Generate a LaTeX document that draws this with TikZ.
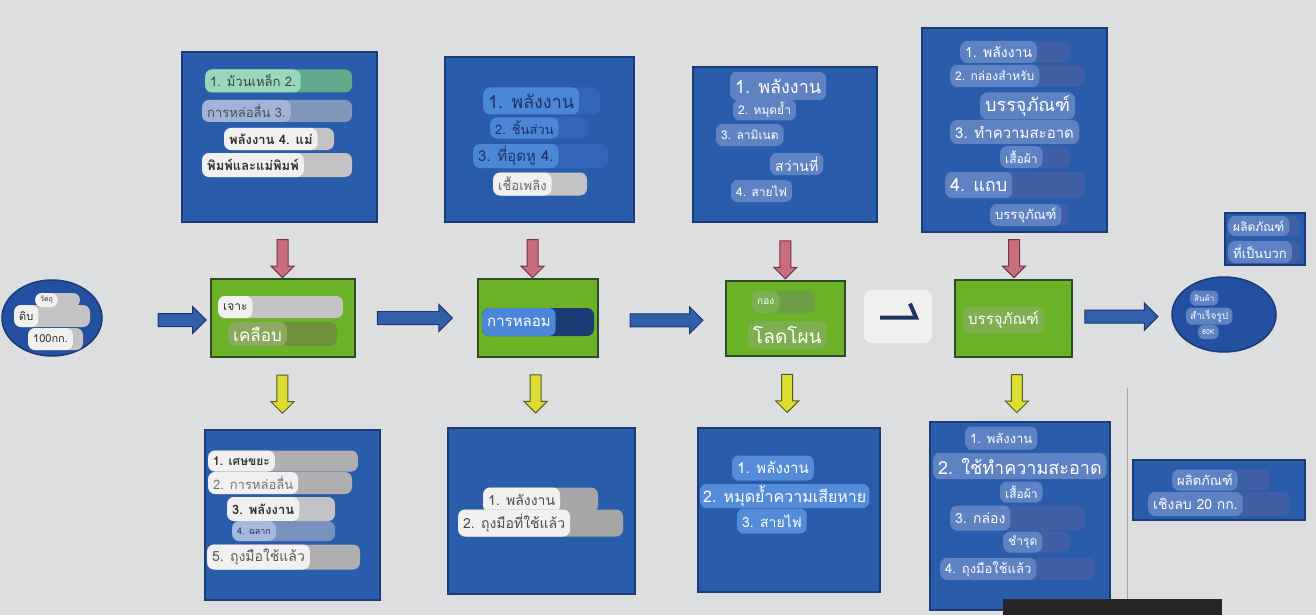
\documentclass[tikz,border=0pt]{standalone}
\usepackage{fontspec}
\setmainfont{Loma}[Script=Thai]
\usetikzlibrary{shapes.geometric,shapes.arrows,calc}
\definecolor{bg}{RGB}{221,222,224}
\definecolor{boxblue}{RGB}{42,92,172}
\definecolor{boxbord}{RGB}{28,58,118}
\definecolor{grn}{RGB}{108,178,38}
\definecolor{grnbord}{RGB}{45,75,40}
\definecolor{mint}{RGB}{150,215,190}
\definecolor{mintd}{RGB}{95,170,140}
\definecolor{lgb}{RGB}{160,180,215}
\definecolor{lgbd}{RGB}{130,150,185}
\definecolor{wbc}{RGB}{240,240,238}
\definecolor{gext}{RGB}{195,195,198}
\definecolor{bb}{RGB}{75,135,215}
\definecolor{bbd}{RGB}{50,100,185}
\definecolor{sb}{RGB}{95,130,195}
\definecolor{sbd}{RGB}{65,95,165}
\definecolor{bb3}{RGB}{85,140,215}
\definecolor{olive}{RGB}{140,170,95}
\definecolor{olived}{RGB}{110,145,60}
\definecolor{gbub}{RGB}{125,175,80}
\definecolor{lbl}{RGB}{165,185,220}
\definecolor{lbld}{RGB}{120,145,190}
\definecolor{navy}{RGB}{30,50,100}
\definecolor{pinkf}{RGB}{200,110,125}
\definecolor{pinkd}{RGB}{120,50,70}
\definecolor{yelf}{RGB}{220,220,50}
\definecolor{yeld}{RGB}{90,90,40}
\definecolor{harf}{RGB}{50,95,170}
\definecolor{hard}{RGB}{30,55,110}
\definecolor{ellf}{RGB}{35,80,160}
\newcommand\fz[1]{\fontsize{#1}{#1}\selectfont}
% name, x, y, h, xext, node style, ext colour, text
\newcommand\bub[8]{%
  \fill[#7, rounded corners=7pt] (#2,#3-#4/2) rectangle (#5,#3+#4/2);
  \node[bubble, minimum height=#4pt, anchor=west, #6] (#1) at (#2,#3) {#8};
}
\begin{document}
\begin{tikzpicture}[x=1pt,y=-1pt,
  bluebox/.style={draw=boxbord, fill=boxblue, line width=1.5pt},
  grnbox/.style={draw=grnbord, fill=grn, line width=2pt},
  bubble/.style={rounded corners=7pt, inner xsep=5pt, inner ysep=0pt, font=\fz{13}},
  wb/.style={fill=wbc, text=black!80},
  sbs/.style={fill=sb, text=white},
  bbs/.style={fill=bb, text=navy},
  harrow/.style={single arrow, draw=hard, fill=harf, line width=1pt, inner xsep=0pt, inner ysep=6pt, single arrow head extend=7pt, single arrow head indent=0pt},
  parrow/.style={single arrow, draw=pinkd, fill=pinkf, line width=1pt, inner xsep=0pt, inner ysep=5pt, single arrow head extend=6pt, single arrow head indent=0pt, rotate=-90, minimum height=38pt},
  yarrow/.style={single arrow, draw=yeld, fill=yelf, line width=1pt, inner xsep=0pt, inner ysep=5pt, single arrow head extend=6pt, single arrow head indent=0pt, rotate=-90, minimum height=38pt},
]
\useasboundingbox (0,0) rectangle (1316,615);
\fill[bg] (0,0) rectangle (1316,615);

% main boxes
\node[bluebox, minimum width=195pt, minimum height=170pt] (t1) at (279.5,137) {};
\node[bluebox, minimum width=189pt, minimum height=165pt] (t2) at (539.5,139.5) {};
\node[bluebox, minimum width=184pt, minimum height=155pt] (t3) at (785,144.5) {};
\node[bluebox, minimum width=185pt, minimum height=204pt] (t4) at (1014.5,130) {};
\node[bluebox, minimum width=80pt, minimum height=52pt] (tr) at (1265,239) {};
\node[grnbox, minimum width=144pt, minimum height=78pt] (g1) at (283,318) {};
\node[grnbox, minimum width=120pt, minimum height=78pt] (g2) at (538,318) {};
\node[grnbox, minimum width=119pt, minimum height=75pt] (g3) at (785.5,318.5) {};
\node[fill=wbc, rounded corners=8pt, minimum width=68pt, minimum height=53pt] (wbx) at (898,316.5) {};
\node[grnbox, minimum width=117pt, minimum height=77pt] (g4) at (1013.5,318.5) {};
\node[ellipse, draw=boxbord, fill=ellf, line width=1.5pt, minimum width=100pt, minimum height=76pt, inner sep=0pt] (el) at (52,318) {};
\node[ellipse, draw=boxbord, fill=ellf, line width=1.5pt, minimum width=104pt, minimum height=75pt, inner sep=0pt] (er) at (1224,314.5) {};
\node[bluebox, minimum width=175pt, minimum height=170pt] (b1) at (292.5,515) {};
\node[bluebox, minimum width=187pt, minimum height=166pt] (b2) at (541.5,511) {};
\node[bluebox, minimum width=182pt, minimum height=164pt] (b3) at (789,510) {};
\node[bluebox, minimum width=180pt, minimum height=188pt] (b4) at (1020,516) {};
\node[bluebox, minimum width=172pt, minimum height=60pt] (b5) at (1219,490) {};

% hook symbol in white box
\draw[navy, line width=4pt] ($(wbx.center)+(-18,1)$) coordinate (hk1) -- ($(wbx.center)+(18,1)$) coordinate (hk2) -- ($(wbx.center)+(12,-13)$) coordinate (hk3);

% thin bracket line and dark bar
\draw[gray!70, line width=0.6pt] (1127,388) -- (1127,600);
\fill[black!85] (1003,599) rectangle (1222,615);

% horizontal block arrows
\node[harrow, minimum height=48pt] (h1) at ($(el.east)!0.71!(g1.west)+(0,2)$) {};
\node[harrow, minimum height=75pt] (h2) at ($(g1.east)!0.46!(g2.west)$) {};
\node[harrow, minimum height=73pt] (h3) at ($(g2.east)!0.51!(g3.west)+(0,2)$) {};
\node[harrow, minimum height=73pt] (h4) at ($(g4.east)!0.46!(er.west)$) {};

% pink arrows (inputs)
\node[parrow] (p1a) at ($(t1.south)!0.6!(g1.north)+(1,0)$) {};
\node[parrow] (p2a) at ($(t2.south)!0.6!(g2.north)+(-6,0)$) {};
\node[parrow] (p3a) at ($(t3.south)!0.6!(g3.north)$) {};
\node[parrow] (p4a) at ($(t4.south)!0.5!(g4.north)$) {};
% yellow arrows (outputs)
\node[yarrow] (y1a) at ($(g1.south)!0.47!(b1.north)+(-5,0)$) {};
\node[yarrow] (y2a) at ($(g2.south)!0.48!(b2.north)+(-4,0)$) {};
\node[yarrow] (y3a) at ($(g3.south)!0.48!(b3.north)$) {};
\node[yarrow] (y4a) at ($(g4.south)!0.52!(b4.north)$) {};

% top box 1
\bub{a1}{205}{81}{23}{352}{fill=mint, text=black!75}{mintd}{1. ม้วนเหล็ก 2.}
\bub{a2}{202}{111}{22}{352}{fill=lgb, text=black!70}{lgbd}{การหล่อลื่น 3.}
\bub{a3}{224}{139}{22}{334}{wb, font=\fz{13}\bfseries}{gext}{พลังงาน 4. แม่}
\bub{a4}{202}{165}{24}{352}{wb, font=\fz{13}\bfseries}{gext}{พิมพ์และแม่พิมพ์}

% top box 2
\bub{b1t}{483}{101}{27}{600}{bbs, font=\fz{18}}{bbd}{1. พลังงาน}
\bub{b2t}{490}{128}{21}{588}{bbs}{bbd}{2. ชิ้นส่วน}
\bub{b3t}{473}{156}{24}{608}{bbs, font=\fz{15}}{bbd}{3. ที่อุดหู 4.}
\bub{b4t}{493}{184}{23}{587}{wb, text=black!60}{gext}{เชื้อเพลิง}

% top box 3
\bub{c1}{730}{86}{28}{740}{sbs, font=\fz{18}}{sb}{1. พลังงาน}
\bub{c2}{733}{110}{21}{743}{sbs, font=\fz{12}}{sb}{2. หมุดย้ำ}
\bub{c3}{716}{135}{22}{726}{sbs, font=\fz{12}}{sb}{3. ลามิเนต}
\bub{c4}{770}{164}{22}{780}{sbs, font=\fz{14}}{sb}{สว่านที่}
\bub{c5}{731}{191}{22}{741}{sbs, font=\fz{12}}{sb}{4. สายไฟ}

% top box 4
\bub{d1}{960}{52}{22}{1070}{sbs, font=\fz{14}}{sbd}{1. พลังงาน}
\bub{d2}{950}{76}{22}{1085}{sbs, font=\fz{12}}{sbd}{2. กล่องสำหรับ}
\bub{d3}{980}{106}{27}{1072}{sbs, font=\fz{18}}{sbd}{บรรจุภัณฑ์}
\bub{d4}{950}{132}{24}{1080}{sbs, font=\fz{15}}{sbd}{3. ทำความสะอาด}
\bub{d5}{1000}{157}{22}{1070}{sbs, font=\fz{12}}{sbd}{เสื้อผ้า}
\bub{d6}{945}{185}{26}{1085}{sbs, font=\fz{18}}{sbd}{4. แถบ}
\bub{d7}{990}{215}{22}{1068}{sbs, font=\fz{13}}{sbd}{บรรจุภัณฑ์}

% top right box
\bub{s1}{1228}{226}{20}{1300}{sbs, font=\fz{12}}{sbd}{ผลิตภัณฑ์}
\bub{s2}{1228}{252}{22}{1300}{sbs, font=\fz{13}}{sbd}{ที่เป็นบวก}

% green boxes
\bub{e1}{218}{307}{22}{343}{wb, font=\fz{12}}{gext}{เจาะ}
\bub{e2}{228}{334}{24}{337}{fill=olive, text=white, font=\fz{17}}{olived}{เคลือบ}
\bub{f1}{482}{322}{28}{594}{fill=bb, text=white, font=\fz{15}}{boxbord}{การหลอม}
\bub{gg1}{752}{302}{22}{815}{fill=gbub, text=white, font=\fz{10}}{gbub!90!black}{กอง}
\bub{gg2}{748}{335}{28}{815}{fill=gbub, text=white, font=\fz{19}}{gbub!90!black}{โลดโผน}
\bub{hh1}{963}{320}{27}{973}{fill=gbub, text=white, font=\fz{15}}{gbub}{บรรจุภัณฑ์}

% left ellipse
\bub{l2}{14}{316}{22}{90}{wb, font=\fz{11}}{gext}{ดิบ}
\bub{l1}{35}{300}{14}{80}{wb, font=\fz{7}}{gext}{วัตถุ}
\bub{l3}{28}{339}{22}{83}{wb, font=\fz{11}}{gext}{100กก.}

% right ellipse
\bub{r1}{1190}{298}{15}{1200}{fill=sb, text=white, font=\fz{8}, rounded corners=5pt, inner xsep=4pt}{sb}{สินค้า}
\bub{r2}{1186}{316}{17}{1196}{fill=sb, text=white, font=\fz{10}, rounded corners=5pt, inner xsep=4pt}{sb}{สำเร็จรูป}
\bub{r3}{1198}{332}{14}{1208}{fill=sb, text=white, font=\fz{7}, rounded corners=5pt, inner xsep=4pt}{sb}{80K}

% bottom box 1
\bub{m1}{208}{461}{21}{358}{wb, font=\fz{12}\bfseries}{gext!90!black}{1. เศษขยะ}
\bub{m2}{208}{483}{22}{352}{fill=white!88!gray, text=black!55, font=\fz{13}}{gext!90!black}{2. การหล่อลื่น}
\bub{m3}{227}{509}{24}{335}{wb, font=\fz{13}\bfseries}{gext}{3. พลังงาน}
\bub{m4}{232}{531}{20}{335}{fill=lbl, text=navy, font=\fz{9}}{lbld}{4. ฉลาก}
\bub{m5}{207}{557}{25}{360}{wb, text=black!65, font=\fz{14}}{gext!90!black}{5. ถุงมือใช้แล้ว}

% bottom box 2
\bub{n1}{483}{500}{25}{598}{wb, text=black!70, font=\fz{14}}{gray!70}{1. พลังงาน}
\bub{n2}{458}{523}{27}{623}{wb, text=black!70, font=\fz{14}}{gray!70}{2. ถุงมือที่ใช้แล้ว}

% bottom box 3
\bub{o1}{732}{468}{25}{742}{fill=bb3, text=white, font=\fz{15}}{bb3}{1. พลังงาน}
\bub{o2}{700}{496}{24}{710}{fill=bb3, text=white, font=\fz{16}, inner xsep=3pt}{bb3}{2. หมุดย้ำความเสียหาย}
\bub{o3}{737}{521}{25}{747}{fill=bb3, text=white, font=\fz{14}}{bb3}{3. สายไฟ}

% bottom box 4
\bub{q1}{965}{438}{23}{975}{sbs, font=\fz{13}}{sb}{1. พลังงาน}
\bub{q2}{933}{466}{26}{943}{sbs, font=\fz{18}}{sb}{2. ใช้ทำความสะอาด}
\bub{q3}{1000}{492}{21}{1010}{sbs, font=\fz{12}}{sb}{เสื้อผ้า}
\bub{q4}{950}{518}{25}{1085}{sbs, font=\fz{14}}{sbd}{3. กล่อง}
\bub{q5}{1003}{542}{21}{1070}{sbs, font=\fz{12}}{sbd}{ชำรุด}
\bub{q6}{940}{569}{22}{1095}{sbs, font=\fz{13}}{sbd}{4. ถุงมือใช้แล้ว}

% bottom box 5
\bub{u1}{1172}{480}{21}{1270}{sbs, font=\fz{13}}{sbd}{ผลิตภัณฑ์}
\bub{u2}{1148}{504}{24}{1290}{sbs, font=\fz{14}}{sbd}{เชิงลบ 20 กก.}
\end{tikzpicture}
\end{document}
